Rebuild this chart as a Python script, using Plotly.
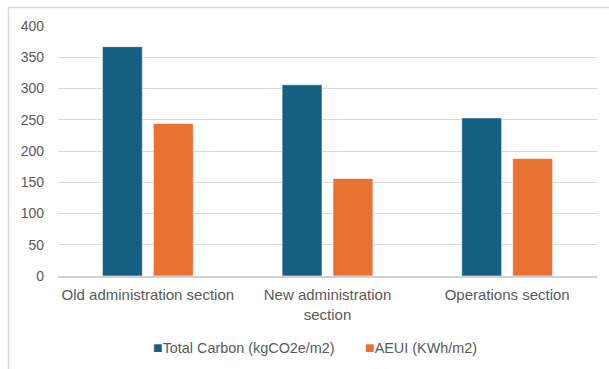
import plotly.graph_objects as go

# Sections of the site and the two metrics compared for each
categories = ["Old administration section", "New administration<br>section", "Operations section"]
series_names = ["Total Carbon (kgCO2e/m2)", "AEUI (KWh/m2)"]
total_carbon = [367, 306, 253]
aeui = [244, 156, 188]
y_ticks = [0, 50, 100, 150, 200, 250, 300, 350, 400]

colors = ["#156082", "#E97132"]
font_family = "Liberation Sans, Arial, sans-serif"
text_color = "#595959"

W, H = 609, 369
ml, mr, mt, mb = 58, 12, 26, 93
pw, ph = W - ml - mr, H - mt - mb

fig = go.Figure()
for name, vals, col in zip(series_names, [total_carbon, aeui], colors):
    fig.add_trace(go.Bar(
        x=categories, y=vals, name=name,
        marker=dict(color=col, line=dict(color="white", width=0.6)),
        showlegend=False,
    ))

def px_x(p):
    return (p - ml) / pw

def px_y(p):
    return (H - mb - p) / ph

# Legend entries: coloured square followed by the series name
legend_left = [151, 363]
for name, col, left in zip(series_names, colors, legend_left):
    fig.add_annotation(
        text=f"<span style='color:{col};font-size:16px'>■</span>{name}",
        xref="paper", yref="paper",
        x=px_x(left), y=px_y(347), xanchor="left", yanchor="middle",
        showarrow=False, font=dict(family=font_family, size=14.4, color=text_color),
    )

# Chart-area border (light grey frame)
fig.add_shape(type="rect", xref="paper", yref="paper",
              x0=px_x(8.5), x1=px_x(W + 20), y0=px_y(7.5), y1=px_y(H + 20),
              line=dict(color="#d9d9d9", width=1.5), layer="below")

fig.update_layout(
    width=W, height=H,
    margin=dict(l=ml, r=mr, t=mt, b=mb),
    paper_bgcolor="white", plot_bgcolor="white",
    barmode="group", bargap=0.433, bargroupgap=0.216,
    font=dict(family=font_family, size=14, color=text_color),
    xaxis=dict(
        showgrid=False, showline=True, linecolor="#d0d0d0", linewidth=2,
        ticks="", ticklabelstandoff=4, tickfont=dict(size=15, color=text_color),
    ),
    yaxis=dict(
        range=[0, 400], tickvals=y_ticks, showgrid=True, gridcolor="#d9d9d9",
        gridwidth=1, zeroline=False, showline=False, ticks="",
        ticklabelstandoff=13, tickfont=dict(size=14, color=text_color),
    ),
)

fig.write_html("out.html")
